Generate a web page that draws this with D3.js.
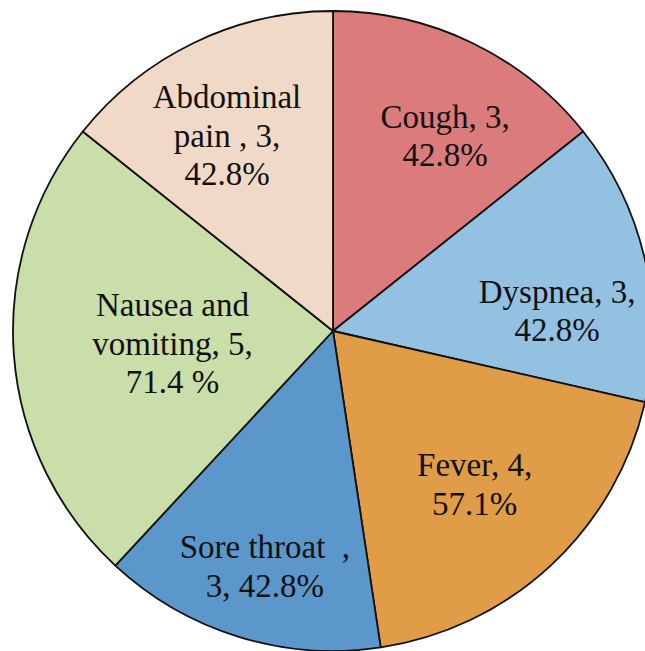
<!DOCTYPE html>
<html>
<head>
<meta charset="utf-8">
<script src="https://cdn.jsdelivr.net/npm/d3@7"></script>
<style>
  html, body { margin: 0; padding: 0; background: #fff; }
  svg { display: block; }
</style>
</head>
<body>
<div id="chart"></div>
<script>
// data
const categories = ["Cough", "Dyspnea", "Fever", "Sore throat", "Nausea and vomiting", "Abdominal pain"];
const counts = [3, 3, 4, 3, 5, 3];
const labelLines = [
  ["Cough, 3,", "42.8%"],
  ["Dyspnea, 3,", "42.8%"],
  ["Fever, 4,", "57.1%"],
  ["Sore throat\u00a0\u00a0,", "3, 42.8%"],
  ["Nausea and", "vomiting, 5,", "71.4 %"],
  ["Abdominal", "pain , 3,", "42.8%"]
];
const colors = ["#db7b7c", "#92c1e2", "#e09c46", "#5b97cb", "#c9dea9", "#f1d9c8"];

// label placement: angle nudge (deg) from slice middle, distance from centre
const labelPlace = [
  {da: 4.2, r: 225},
  {da: 7.8, r: 225},
  {da: 0.2, r: 209},
  {da: -1.0, r: 245},
  {da: -0.2, r: 161},
  {da: -2.8, r: 222}
];

const W = 645, H = 651;
const cx = 333, cy = 331, radius = 320;
const lineH = 38.5;

const svg = d3.select("#chart").append("svg")
    .attr("width", W)
    .attr("height", H);

const g = svg.append("g").attr("transform", `translate(${cx},${cy})`);

const pie = d3.pie().sort(null).value(d => d.value);
const arc = d3.arc().innerRadius(0).outerRadius(radius);

const slices = pie(categories.map((c, i) => ({name: c, value: counts[i], i: i})));

g.selectAll("path.slice")
  .data(slices)
  .join("path")
    .attr("class", "slice")
    .attr("d", arc)
    .attr("fill", d => colors[d.data.i])
    .attr("stroke", "#111")
    .attr("stroke-width", 1.8)
    .attr("stroke-linejoin", "round");

// labels
g.selectAll("text.lbl")
  .data(slices)
  .join("text")
    .attr("class", "lbl")
    .attr("text-anchor", "middle")
    .style("font-family", '"Liberation Serif", "Times New Roman", serif')
    .style("font-size", "33px")
    .attr("fill", "#111")
    .each(function(d) {
      const p = labelPlace[d.data.i];
      const mid = (d.startAngle + d.endAngle) / 2 + p.da * Math.PI / 180;
      const [x, y] = d3.pointRadial(mid, p.r);
      const lines = labelLines[d.data.i];
      const y0 = y + 11 - (lines.length - 1) * lineH / 2;
      d3.select(this).selectAll("tspan")
        .data(lines)
        .join("tspan")
          .attr("x", x)
          .attr("y", (t, k) => y0 + k * lineH)
          .text(t => t);
    });
</script>
</body>
</html>
